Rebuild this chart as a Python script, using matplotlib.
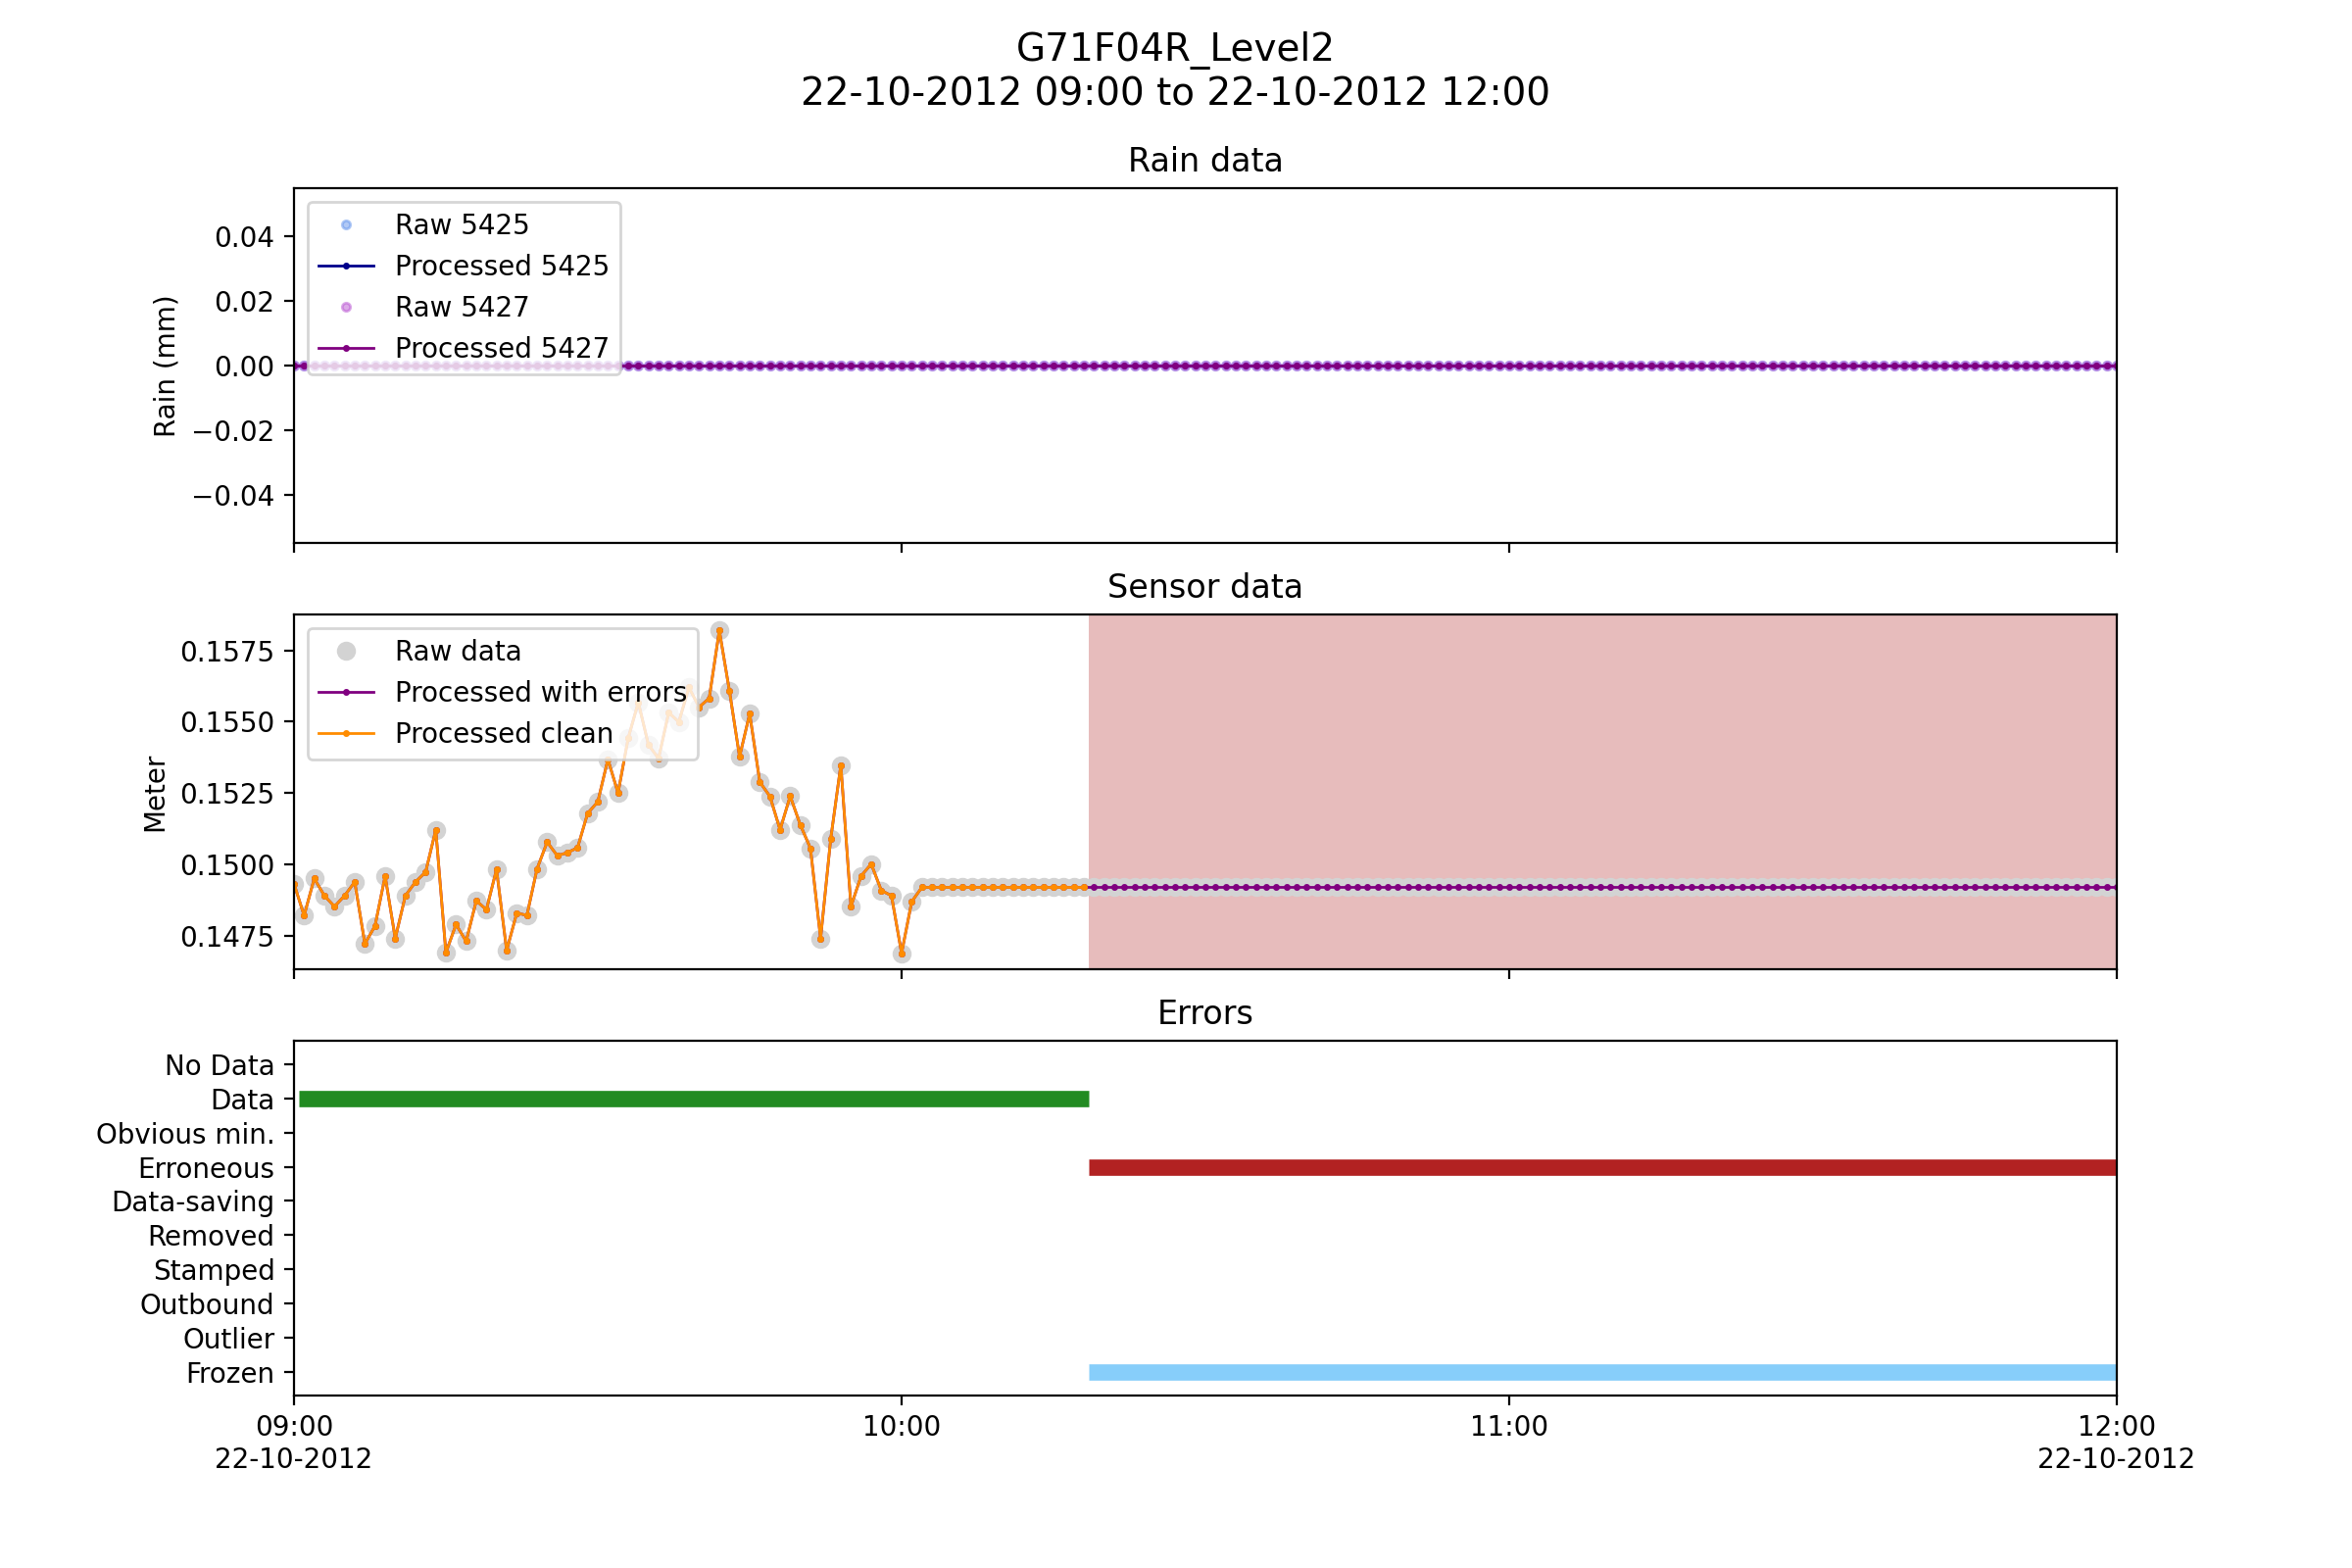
import matplotlib
matplotlib.use("Agg")
import matplotlib.pyplot as plt
import pandas as pd
import numpy as np

# ---------------- data ----------------
start = "2012-10-22 09:00"
end = "2012-10-22 12:00"
times = pd.date_range(start, end, freq="1min")  # 181 samples, one per minute

rain_raw_5425 = [0.0] * 181
rain_proc_5425 = [0.0] * 181
rain_raw_5427 = [0.0] * 181
rain_proc_5427 = [0.0] * 181

# sensor level (m), 09:00 .. 10:18 clean part
sensor_clean = [
    0.14932, 0.14820, 0.14950, 0.14890, 0.14852, 0.14890, 0.14938, 0.14721,
    0.14784, 0.14959, 0.14740, 0.14890, 0.14938, 0.14973, 0.15121, 0.14690,
    0.14789, 0.14730, 0.14872, 0.14841, 0.14982, 0.14698, 0.14829, 0.14821,
    0.14984, 0.15078, 0.15030, 0.15041, 0.15058, 0.15179, 0.15219, 0.15368,
    0.15250, 0.15442, 0.15568, 0.15419, 0.15371, 0.15532, 0.15499, 0.15620,
    0.15551, 0.15582, 0.15820, 0.15608, 0.15377, 0.15528, 0.15288, 0.15238,
    0.15121, 0.15239, 0.15138, 0.15056, 0.14740, 0.15089, 0.15348, 0.14852,
    0.14959, 0.15001, 0.14908, 0.14890, 0.14688, 0.14869, 0.14919, 0.14919,
    0.14919, 0.14919, 0.14919, 0.14919, 0.14919, 0.14919, 0.14919, 0.14919,
    0.14919, 0.14919, 0.14919, 0.14919, 0.14919, 0.14919, 0.14919,
]
# 10:19 .. 12:00 frozen / erroneous part
sensor_err = [0.14919] * 102
sensor_raw = sensor_clean + sensor_err

error_categories = ["No Data", "Data", "Obvious min.", "Erroneous", "Data-saving",
                    "Removed", "Stamped", "Outbound", "Outlier", "Frozen"]
# (category, start, end)
error_segments = [
    ("Data", "2012-10-22 09:00:30", "2012-10-22 10:18:30"),
    ("Erroneous", "2012-10-22 10:18:30", "2012-10-22 12:00"),
    ("Frozen", "2012-10-22 10:18:30", "2012-10-22 12:00"),
]
error_colors = {"Data": "forestgreen", "Erroneous": "firebrick", "Frozen": "lightskyblue"}
erroneous_span = ("2012-10-22 10:18:30", "2012-10-22 12:00")

tick_times = ["2012-10-22 09:00", "2012-10-22 10:00", "2012-10-22 11:00", "2012-10-22 12:00"]
tick_labels = ["09:00\n22-10-2012", "10:00", "11:00", "12:00\n22-10-2012"]

title = "G71F04R_Level2\n22-10-2012 09:00 to 22-10-2012 12:00"

# ---------------- plot ----------------
fig, axes = plt.subplots(3, 1, sharex=True, figsize=(12, 8), dpi=200)
ax_rain, ax_sens, ax_err = axes

# Rain
ax_rain.plot(times, rain_raw_5425, "o", color="cornflowerblue", alpha=0.5, ms=3, label="Raw 5425")
ax_rain.plot(times, rain_proc_5425, "-", marker=".", ms=3, lw=1, color="darkblue", label="Processed 5425")
ax_rain.plot(times, rain_raw_5427, "o", color="mediumorchid", alpha=0.5, ms=3, label="Raw 5427")
ax_rain.plot(times, rain_proc_5427, "-", marker=".", ms=3, lw=1, color="purple", label="Processed 5427")
ax_rain.set_title("Rain data")
ax_rain.set_ylabel("Rain (mm)")
ax_rain.legend(loc="upper left")

# Sensor
n_clean = len(sensor_clean)
ax_sens.axvspan(pd.Timestamp(erroneous_span[0]), pd.Timestamp(erroneous_span[1]),
                color="firebrick", alpha=0.3, lw=0)
ax_sens.plot(times, sensor_raw, "o", color="lightgrey", ms=6, label="Raw data")
ax_sens.plot(times, sensor_raw, "-", marker=".", ms=3, lw=1, color="purple", label="Processed with errors")
ax_sens.plot(times[:n_clean], sensor_clean, "-", marker=".", ms=3, lw=1, color="darkorange",
             label="Processed clean")
ax_sens.set_title("Sensor data")
ax_sens.set_ylabel("Meter")
ax_sens.legend(loc="upper left")

# Errors
ypos = {c: i for i, c in enumerate(error_categories)}
for cat, s, e in error_segments:
    ax_err.hlines(ypos[cat], pd.Timestamp(s), pd.Timestamp(e), color=error_colors[cat], lw=6)
ax_err.set_yticks(range(len(error_categories)))
ax_err.set_yticklabels(error_categories)
ax_err.set_ylim(len(error_categories) - 1 + 0.7, -0.7)
ax_err.set_title("Errors")

ax_err.set_xlim(pd.Timestamp(start), pd.Timestamp(end))
ax_err.set_xticks([pd.Timestamp(t) for t in tick_times])
ax_err.set_xticklabels(tick_labels)

fig.suptitle(title, fontsize=14)
fig.savefig("out.png", dpi=200)
